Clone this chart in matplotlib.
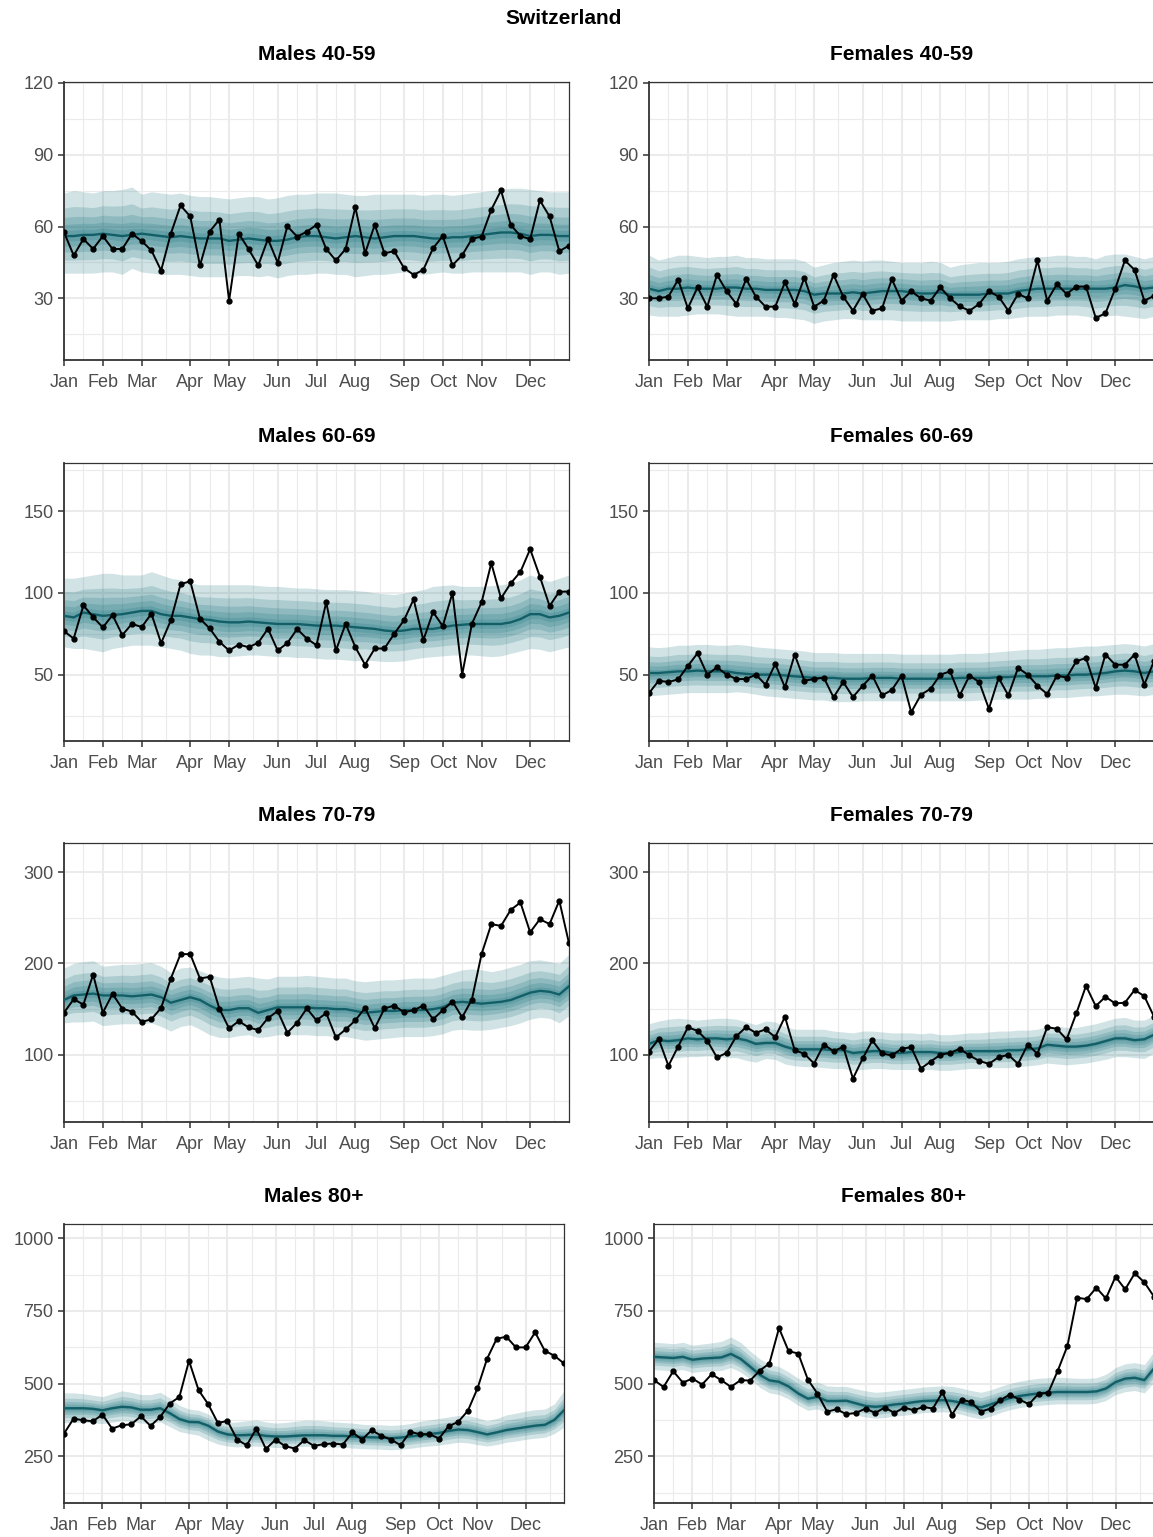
import numpy as np
import matplotlib
matplotlib.use("Agg")
import matplotlib.pyplot as plt

plt.rcParams['font.family'] = ['Liberation Sans', 'DejaVu Sans']

# ---------------- data ----------------
weeks = list(range(53))
month_labels = ["Jan", "Feb", "Mar", "Apr", "May", "Jun", "Jul", "Aug", "Sep", "Oct", "Nov", "Dec"]
month_weeks = [0, 4, 8, 13, 17, 22, 26, 30, 35, 39, 43, 48]
band_fractions = [1.0, 0.65, 0.43, 0.27, 0.13]

# Males 40-59
m4059_obs = [57.6, 47.9, 54.8, 50.6, 56, 50.6, 50.6, 57, 53.9, 50, 41.6, 57, 68.8, 64.2, 43.7, 57.9, 62.9, 29, 57, 50.6,
             43.7, 54.8, 44.9, 60.1, 55.8, 57.8, 60.7, 50.6, 45.8, 50.6, 68.1, 48.8, 60.7, 48.8, 49.7, 42.7, 39.8, 41.9,
             50.9, 56, 43.8, 48, 54.8, 55.8, 67, 75.1, 60.7, 56, 54.7, 70.9, 64.2, 49.7, 52]
m4059_med = [56, 56, 56.5, 56.5, 57, 56.5, 56, 56.5, 57, 56.5, 56, 55.5, 56, 55.5, 55, 55, 55, 54, 54.5, 55, 54.5, 54,
             54, 54.5, 55.5, 56, 56, 55.5, 55, 55.5, 56, 55.5, 55, 55.5, 56, 56, 56, 55.5, 55, 55, 55.5, 55.5, 56, 56.5,
             57, 57.5, 57.5, 57, 56, 56.5, 56.5, 56, 56]
m4059_hi = [74, 75, 74.5, 74, 75, 75, 75.5, 76.5, 73.5, 74.5, 74, 73.5, 74, 73, 72.5, 72.5, 72, 71.5, 72, 72.5, 72.5,
            71.5, 72, 73, 73.5, 73.5, 74, 74, 74, 73.5, 73, 73, 73.5, 73.5, 73.5, 73.5, 73.5, 73, 73.5, 73.5, 73, 73.5,
            74, 74.5, 75, 75.5, 76, 76, 75.5, 75, 74.5, 74.5, 74.5]
m4059_lo = [40.5, 40.5, 40.5, 40.5, 41, 41, 40, 42.5, 41, 40.5, 40, 40, 40, 39.5, 39, 39, 39, 39, 39.5, 39.5, 39, 39.5,
            38.5, 39.5, 40, 40, 40.5, 40.5, 40, 40, 39, 39.5, 40, 40, 40.5, 41, 40.5, 40, 40.5, 41, 40.5, 40.5, 41, 41,
            41, 41, 41, 41, 40, 41, 41, 40, 40.5]

# Females 40-59
f4059_obs = [30, 30, 30.7, 37.8, 25.8, 34.6, 26.5, 39.8, 32.9, 27.6, 38, 30.7, 26.5, 26.5, 36.7, 27.6, 38.6, 26.5, 29,
             39.8, 30.7, 24.8, 31.8, 24.8, 25.8, 38, 29, 32.9, 30, 29, 34.6, 30, 26.6, 24.8, 27.6, 32.9, 30.7, 24.8,
             31.8, 30, 45.8, 29, 35.9, 31.8, 34.9, 34.9, 21.8, 23.7, 33.9, 45.8, 41.9, 29, 31]
f4059_med = [34, 33, 34, 34, 34.5, 34, 34, 34, 34.5, 34.5, 34, 34, 33.5, 33.5, 33.5, 33.5, 33, 31.5, 32, 32, 32, 32.5,
             32, 32.5, 33, 33, 33, 32.5, 32, 32, 32.5, 31.5, 31.5, 31.5, 31.5, 32, 32, 32, 33, 33.5, 34, 34, 34, 34,
             34, 34, 34, 34, 34.5, 35.5, 35, 34, 34.5]
f4059_hi = [48, 46, 47, 48, 48, 47.5, 47, 47.5, 47.5, 48, 47, 47, 46.5, 46.5, 46.5, 46.5, 45.5, 43, 44, 45, 45.5, 46,
            45.5, 46, 46, 45.5, 45, 45, 45, 45.5, 45, 43, 44, 44.5, 45, 45, 45, 45.5, 46.5, 47, 47.5, 47.5, 48, 48,
            47.5, 47.5, 46.5, 48, 48.5, 48.5, 47.5, 46.5, 47.5]
f4059_lo = [23, 22.5, 22.5, 22.5, 23, 23.5, 23.5, 23.5, 23, 22.5, 22.5, 22.5, 22.5, 22, 22, 21.5, 21, 19.5, 20.5, 21,
            21.5, 21.5, 21, 21, 21, 21, 20.5, 20.5, 20.5, 20.5, 20.5, 20.5, 21, 21, 21, 21, 21.5, 21.5, 22, 22.5,
            22.5, 22.5, 23, 23, 23, 22.5, 21.5, 22.5, 23, 22.5, 22, 21.5, 22.5]

# Males 60-69
m6069_obs = [76.6, 72.1, 92.4, 85.2, 78.9, 86.5, 74.2, 81.1, 79.1, 87.3, 69.3, 83.2, 105.3, 107.2, 84.2, 78.3, 70.1,
             64.8, 68.4, 66.8, 69.5, 78.1, 64.8, 69.3, 77.9, 72.1, 68, 94.3, 64.8, 81.1, 66.8, 56.1, 66, 66, 75, 83.2,
             96.1, 71.1, 88.3, 79.7, 100, 50, 81.1, 94.3, 118.2, 96.7, 105.9, 112.9, 126.8, 110, 92, 100.8, 100.8]
m6069_med = [86, 85, 88, 87, 86, 86.5, 87, 88, 89, 89, 87, 86, 86, 85, 84, 83.5, 82.5, 82, 82, 82.5, 82, 81.5, 81, 81,
             81, 80.5, 80, 80, 80, 79.5, 79, 78.5, 78, 77, 76.5, 77, 78, 78, 78, 79, 80, 80.5, 81, 81, 81, 81, 82, 84,
             87, 87, 85, 86, 88]
m6069_hi = [109, 109, 110, 111, 112, 112, 111, 111, 111, 113, 111, 109, 108, 106, 105, 105, 105, 105, 105, 105, 104.5,
            104, 104, 103.5, 103, 103, 102.5, 102, 102, 102, 101.5, 101, 100, 99.5, 99, 100, 101, 102, 104, 104.5,
            105, 104, 104, 104, 104.5, 105, 106, 108, 111, 109, 107, 109, 111]
m6069_lo = [67, 66, 66, 65, 64, 66, 67, 68, 68, 68, 67, 66, 65, 63, 62, 62, 61, 61, 61.5, 62, 62, 61.5, 61, 61, 60.5,
            60.5, 60, 59.5, 59.5, 59, 58.5, 59, 58.5, 58, 58, 58.5, 59.5, 60.5, 61, 61.5, 62, 62, 62, 61.5, 61, 61.5,
            63, 64.5, 66, 65.5, 64, 65.5, 67]

# Females 60-69
f6069_obs = [38.7, 46.3, 45.5, 47.1, 55.3, 63.1, 50, 54.5, 50, 47.3, 47.3, 50, 43.9, 56.6, 42.2, 62.3, 46.3, 47.3,
             48.2, 36.1, 45.5, 36.3, 43.2, 49.4, 37.3, 40.6, 49.4, 27, 37.7, 41.4, 50, 52, 37.3, 49.4, 45.5, 29.1, 48,
             37.3, 54.1, 50, 43.2, 38.1, 49.4, 48.2, 58.2, 60.2, 41.8, 62.3, 56.1, 56.1, 62.3, 43.9, 58.2]
f6069_med = [51, 51, 51.5, 52, 52, 52.5, 52, 52, 52, 51, 50.5, 50, 50, 50, 49.5, 49, 48.5, 48, 48, 48, 47.5, 47.5,
             47.5, 48, 48, 48, 47.5, 47.5, 47.5, 47.5, 47.5, 47.5, 48, 48, 48, 48, 48.5, 48.5, 49, 49, 49, 49, 49.5,
             49.5, 50, 50, 50.5, 51, 52, 52.5, 52, 51, 52]
f6069_hi = [67, 66.5, 67, 68, 68, 68.5, 68.5, 68, 68, 68.5, 68, 67, 66.5, 66, 65.5, 65, 64.5, 63.5, 63.5, 63.5, 63,
            63, 63, 63, 63, 63, 62.5, 62.5, 62.5, 62.5, 62.5, 62.5, 63, 63, 63, 63.5, 64, 64.5, 65, 65.5, 65.5, 66,
            66.5, 66.5, 67, 67.5, 67.5, 68, 68.5, 69, 68.5, 67.5, 69]
f6069_lo = [37, 37.5, 38, 38.5, 39, 39, 39, 39, 39, 39.5, 39, 38, 37, 36.5, 36, 35.5, 35, 34.5, 34.5, 33.5, 33.5,
            33.5, 34, 34, 34, 34, 34, 34, 34, 34, 34, 34, 34, 34, 34.5, 34.5, 35, 35, 35, 35, 35.5, 35.5, 36, 36,
            36.5, 37, 37, 37.5, 38, 38, 37.5, 37, 38]

# Males 70-79
m7079_obs = [146.2, 160.9, 155, 187.9, 146.2, 166.7, 150.6, 147.3, 136, 138.9, 151.3, 183.5, 210.2, 210.2, 183.5,
             185.4, 150.5, 128.9, 136.9, 130, 127.1, 140.2, 147.9, 124.1, 135.1, 150.8, 137.7, 145.7, 119, 127.8,
             137.7, 151.4, 129.2, 150.8, 153.9, 146.6, 148.8, 153.9, 138.9, 148.8, 158.3, 141.1, 160.5, 210.4, 243,
             241.1, 258.6, 266.7, 234.1, 248.4, 243.1, 268.8, 222]
m7079_med = [160, 165, 166, 167, 165, 165, 165, 164, 165, 166, 163, 157, 160, 163, 160, 154, 149, 149, 151, 151, 146,
             149, 152, 152, 152, 152, 151, 151, 150, 150, 148, 146, 147, 148, 148, 149, 149, 149, 150, 152, 157, 158,
             157, 156, 157, 158, 160, 164, 168, 170, 169, 166, 175]
m7079_hi = [195, 200, 202, 203, 197, 198, 199, 199, 200, 201, 197, 190, 195, 196, 192, 188, 185, 184, 185, 186, 184,
            183, 186, 186, 186, 187, 186, 185, 184, 184, 181, 180, 181, 182, 182, 183, 184, 184, 184, 187, 190, 193,
            194, 193, 191, 193, 196, 199, 203, 204, 202, 200, 210]
m7079_lo = [135, 136, 136, 137, 132, 133, 134, 134, 134, 135, 131, 126, 131, 133, 128, 122, 119, 119, 121, 122, 119,
            120, 122, 122, 122, 122, 121, 121, 120, 120, 118, 116, 117, 118, 119, 120, 120, 120, 121, 123, 127, 128,
            127, 127, 128, 130, 132, 135, 139, 141, 140, 135, 143]

# Females 70-79
f7079_obs = [103.6, 117.2, 88, 109.1, 130, 126.3, 115.4, 97.1, 102.2, 120.5, 130.3, 124.1, 127.8, 119.4, 141.7, 105.1,
             101.1, 90.5, 111.3, 104, 108.8, 74, 96, 115.7, 101.5, 99.3, 106.6, 108.4, 85, 92.7, 100, 102.2, 106.6,
             99.3, 93.4, 90.1, 97.4, 100, 90.1, 111.3, 101.1, 130.3, 128.5, 116.8, 145.3, 175.5, 153.3, 163.5, 156.3,
             157, 170.9, 164.3, 141.7]
f7079_med = [112, 116, 115, 116, 118, 117, 118, 118, 117, 118, 116, 112, 113, 113, 109, 106, 106, 106, 106, 105, 105,
             102, 103, 104, 104, 102, 102, 103, 103, 103, 102, 102, 103, 104, 104, 104, 104, 105, 105, 106, 107, 111,
             110, 109, 109, 110, 112, 115, 118, 118, 116, 117, 122]
f7079_hi = [134, 137, 139, 140, 139, 138, 139, 140, 140, 139, 136, 133, 137, 136, 131, 128, 128, 128, 128, 126, 125,
            124, 126, 126, 125, 124, 124, 124, 123, 124, 122, 122, 123, 124, 124, 125, 126, 126, 127, 127, 128, 131,
            131, 130, 130, 132, 134, 137, 140, 141, 138, 138, 143]
f7079_lo = [96, 97, 96, 97, 98, 98, 99, 98, 97, 97, 94, 92, 96, 95, 90, 88, 87, 87, 86, 85, 85, 83, 84, 85, 85, 84,
            84, 84, 84, 84, 83, 83, 84, 85, 85, 86, 86, 86, 87, 88, 89, 91, 90, 89, 90, 91, 93, 95, 98, 98, 97, 96,
            102]

# Males 80+
m80_obs = [327.7, 379.4, 373.7, 370.2, 393.2, 345, 356.4, 359.9, 387.4, 354.1, 385.2, 431.1, 454.1, 578.1, 477.1,
           428.8, 364.5, 371.4, 307.4, 287.4, 344.9, 274.9, 307.1, 284.5, 276.4, 305.1, 285.6, 291.4, 293.7, 290.2,
           331.6, 307.4, 339.6, 320.1, 307.4, 287.9, 333.8, 325.8, 325.8, 310.9, 353.3, 368.3, 406.2, 483.1, 585.3,
           654.2, 661.1, 624.4, 624.4, 676.1, 612.9, 595.7, 569.1]
m80_med = [415, 415, 415, 413, 408, 415, 420, 418, 410, 410, 415, 398, 378, 368, 367, 355, 335, 325, 322, 323, 325,
           320, 318, 318, 320, 322, 322, 322, 320, 320, 318, 316, 315, 314, 312, 314, 318, 322, 326, 330, 337, 342,
           340, 333, 325, 332, 340, 345, 350, 355, 358, 375, 408]
m80_hi = [468, 468, 465, 460, 455, 465, 475, 470, 462, 462, 470, 450, 425, 412, 408, 395, 375, 365, 368, 372, 375,
          368, 364, 366, 370, 374, 374, 372, 368, 366, 364, 360, 358, 358, 356, 358, 362, 370, 375, 380, 385, 390,
          390, 382, 372, 380, 392, 398, 405, 410, 412, 430, 475]
m80_lo = [365, 366, 367, 365, 362, 367, 372, 370, 364, 363, 368, 352, 335, 328, 322, 305, 292, 285, 282, 284, 285,
          282, 280, 280, 282, 284, 284, 283, 282, 281, 278, 276, 275, 274, 272, 274, 277, 282, 285, 288, 293, 298,
          296, 290, 285, 290, 298, 302, 308, 312, 315, 328, 350]

# Females 80+
f80_obs = [511.5, 488.5, 542.5, 503.4, 517.2, 496.6, 532.2, 511.5, 488.5, 511.5, 510.3, 544.8, 569, 690.7, 611.4,
           603.4, 513.8, 465.5, 403.5, 411.6, 394.4, 399, 413.9, 399, 417.3, 399, 417.3, 408.2, 419.6, 413.9, 470.2,
           393.2, 444.9, 435.7, 403.5, 413.9, 442.6, 462.1, 444.9, 428.8, 465.5, 467.8, 544.8, 629.8, 795.2, 790.6,
           829.6, 792.9, 867.9, 824, 879.3, 848.2, 799]
f80_med = [592, 590, 588, 592, 582, 586, 588, 590, 602, 585, 558, 530, 511, 506, 490, 466, 448, 454, 440, 440, 441,
           432, 423, 420, 423, 428, 431, 436, 440, 441, 443, 440, 434, 425, 418, 428, 440, 450, 457, 462, 466, 469,
           471, 471, 471, 471, 473, 483, 505, 517, 520, 512, 552]
f80_hi = [642, 640, 637, 642, 632, 636, 640, 645, 660, 642, 612, 585, 566, 558, 540, 518, 500, 505, 492, 490, 490,
          482, 475, 470, 472, 476, 480, 484, 488, 490, 492, 490, 484, 476, 470, 478, 490, 500, 508, 514, 518, 520,
          522, 520, 518, 518, 520, 532, 555, 568, 572, 565, 610]
f80_lo = [548, 546, 544, 548, 538, 542, 544, 545, 555, 540, 515, 487, 468, 462, 447, 425, 408, 413, 400, 400, 400,
          392, 385, 381, 383, 388, 391, 395, 400, 401, 403, 400, 394, 385, 378, 388, 400, 410, 417, 422, 425, 428,
          430, 430, 430, 430, 432, 442, 462, 472, 476, 468, 505]

panel_titles = ["Males 40-59", "Females 40-59", "Males 60-69", "Females 60-69",
                "Males 70-79", "Females 70-79", "Males 80+", "Females 80+"]
yticks_major = {"40-59": [30, 60, 90, 120], "60-69": [50, 100, 150], "70-79": [100, 200, 300],
                "80+": [250, 500, 750, 1000]}
yticks_minor = {"40-59": [15, 45, 75, 105], "60-69": [25, 75, 125, 175], "70-79": [50, 150, 250],
                "80+": [125, 375, 625, 875]}
ylims = {"40-59": (4.2, 120.4), "60-69": (9.4, 179.5), "70-79": (26.5, 331.8), "80+": (89, 1049)}

panels = [
    (m4059_obs, m4059_med, m4059_lo, m4059_hi),
    (f4059_obs, f4059_med, f4059_lo, f4059_hi),
    (m6069_obs, m6069_med, m6069_lo, m6069_hi),
    (f6069_obs, f6069_med, f6069_lo, f6069_hi),
    (m7079_obs, m7079_med, m7079_lo, m7079_hi),
    (f7079_obs, f7079_med, f7079_lo, f7079_hi),
    (m80_obs, m80_med, m80_lo, m80_hi),
    (f80_obs, f80_med, f80_lo, f80_hi),
]

# ---------------- layout ----------------
W, H = 1153, 1537
fig = plt.figure(figsize=(W / 100, H / 100), dpi=100)
fig.patch.set_facecolor("white")

row_tb = [(82, 360), (463, 741), (843, 1122), (1224, 1503)]
col_lr = [[(64, 569), (649, 1154)], [(64, 569), (649, 1154)], [(64, 569), (649, 1154)], [(64, 564), (654, 1154)]]

band_color = "#0f6d78"
median_color = "#135f68"
grid_color = "#ebebeb"
text_grey = "#4d4d4d"

minor_x = list((np.array(month_weeks[:-1]) + np.array(month_weeks[1:])) / 2) + [(month_weeks[-1] + weeks[-1] + 1) / 2]

for i, (title, (obs, med, lo, hi)) in enumerate(zip(panel_titles, panels)):
    r, c = divmod(i, 2)
    t, b = row_tb[r]
    l, rr = col_lr[r][c]
    ax = fig.add_axes([l / W, 1 - b / H, (rr - l) / W, (b - t) / H])
    key = title.split()[1]
    x = np.array(weeks)
    med_a = np.array(med, dtype=float)
    lo_a = np.array(lo, dtype=float)
    hi_a = np.array(hi, dtype=float)
    for f in band_fractions:
        ax.fill_between(x, med_a - f * (med_a - lo_a), med_a + f * (hi_a - med_a),
                        color=band_color, alpha=0.19, linewidth=0, zorder=2)
    ax.plot(x, med_a, color=median_color, lw=1.7, zorder=3)
    ax.plot(x, obs, color="black", lw=1.4, marker="o", markersize=3.5, zorder=4)

    ax.set_xlim(0, 52)
    ax.set_ylim(*ylims[key])
    ax.set_xticks(month_weeks)
    ax.set_xticklabels(month_labels)
    ax.set_xticks(minor_x, minor=True)
    ax.set_yticks(yticks_major[key])
    ax.set_yticks(yticks_minor[key], minor=True)
    ax.grid(which="major", color=grid_color, lw=1.5, zorder=0)
    ax.grid(which="minor", color=grid_color, lw=0.8, zorder=0)
    ax.set_axisbelow(True)
    ax.tick_params(which="major", length=4, width=1.1, color="#333333", labelcolor=text_grey,
                   labelsize=13, pad=3.5)
    ax.tick_params(axis="x", which="major", pad=6)
    ax.tick_params(which="minor", length=0)
    for side in ["top", "right"]:
        ax.spines[side].set_color("#333333")
        ax.spines[side].set_linewidth(0.9)
    for side in ["left", "bottom"]:
        ax.spines[side].set_color("#333333")
        ax.spines[side].set_linewidth(1.3)
    ax.text(0.5, 1 + 27 / (b - t), title, transform=ax.transAxes, ha="center", va="center",
            fontsize=15, fontweight="bold", color="black")

fig.text(564 / W, 1 - 19 / H, "Switzerland", ha="center", va="center", fontsize=15,
         fontweight="bold", color="black")

fig.savefig("out.png", dpi=100, facecolor="white")
